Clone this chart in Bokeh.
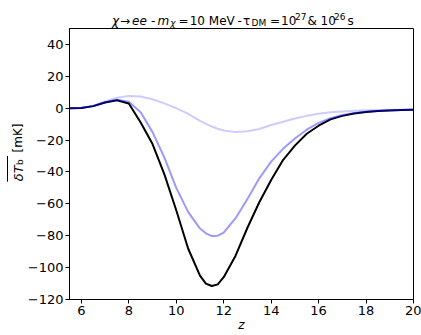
import math
from bokeh.plotting import figure
from bokeh.layouts import column, row
from bokeh.models import Range1d, FixedTicker, CustomJSTickFormatter, ColumnDataSource
from bokeh.core.properties import value
from bokeh.embed import file_html
from bokeh.resources import INLINE

# ---------------- data ----------------
z = [5.5, 6.0, 6.5, 7.0, 7.5, 8.0, 8.5, 9.0, 9.5, 10.0, 10.5, 11.0, 11.25, 11.5, 11.75,
     12.0, 12.5, 13.0, 13.5, 14.0, 14.5, 15.0, 15.5, 16.0, 16.5, 17.0, 17.5, 18.0,
     18.5, 19.0, 19.5, 20.0]
dTb_black = [0, 0.2, 1.3, 3.6, 5.0, 3.0, -9, -22.5, -41.5, -64, -88, -105, -110, -111.5, -110.5,
             -106, -92.5, -75, -59, -45, -32.5, -23.5, -16, -11, -7, -4.8, -3.3, -2.4,
             -1.8, -1.4, -1.2, -1.0]
dTb_tau26 = [0, 0.2, 1.3, 3.7, 5.3, 4.0, -2.5, -15, -31, -50, -65, -75.5, -78.5, -80.2, -80,
             -78, -69, -57, -44, -33.5, -25.5, -19, -13.5, -9.2, -6.3, -4.3, -3.0, -2.2,
             -1.7, -1.3, -1.1, -0.9]
dTb_tau27 = [0, 0.3, 1.6, 4.2, 6.6, 7.7, 7.3, 5.6, 3.0, 0.0, -3.5, -8, -9.8, -11.5, -12.9,
             -14, -15, -14.5, -13, -10.5, -8.5, -6.5, -4.8, -3.5, -2.6, -2.0, -1.6, -1.3,
             -1.1, -1.0, -0.9, -0.8]
x_ticks = [6, 8, 10, 12, 14, 16, 18, 20]
y_ticks = [-120, -100, -80, -60, -40, -20, 0, 20, 40]

title_text = ["χ", "→", "ee", "-", "m", "χ", "=", "10 MeV", "-", "τ", "DM", "=",
              "10", "27", "&", "10", "26", "s"]
title_style = ["italic", "normal", "italic", "normal", "italic", "italic", "normal", "normal",
               "normal", "normal", "normal", "normal", "normal", "normal", "normal", "normal",
               "normal", "normal"]
ylabel_text = ["δT", "b", "[mK]"]
ylabel_style = ["italic", "normal", "normal"]

FONT = "DejaVu Sans"
W, H = 421, 334
TOP = 28          # height of the title strip (page px)
YL = 24           # width of the y-label strip (page px)

# ---------------- main plot ----------------
p = figure(width=W - YL, height=H - TOP,
           x_range=Range1d(5.5, 20), y_range=Range1d(-120, 50),
           output_backend="svg", toolbar_location=None, title=None,
           min_border_left=69 - YL, min_border_right=8, min_border_top=0, min_border_bottom=33,
           background_fill_color="white", border_fill_color="white")
p.xgrid.visible = False
p.ygrid.visible = False
p.outline_line_color = "black"
p.outline_line_alpha = 1.0
p.outline_line_width = 1

for ax in (p.xaxis[0], p.yaxis[0]):
    ax.axis_line_color = "black"
    ax.major_tick_line_color = "black"
    ax.minor_tick_line_color = None
    ax.major_tick_out = 4
    ax.major_tick_in = 0
    ax.major_label_text_font = FONT
    ax.major_label_text_font_size = "13px"
    ax.major_label_text_color = "black"

p.xaxis[0].ticker = FixedTicker(ticks=x_ticks)
p.yaxis[0].ticker = FixedTicker(ticks=y_ticks)
fmt = CustomJSTickFormatter(code="return tick < 0 ? '\u2212' + Math.abs(tick) : String(tick);")
p.xaxis[0].formatter = fmt
p.yaxis[0].formatter = fmt
p.xaxis[0].major_label_standoff = 2
p.yaxis[0].major_label_standoff = 2
p.xaxis[0].axis_label = "z"
p.xaxis[0].axis_label_text_font = FONT
p.xaxis[0].axis_label_text_font_size = "12px"
p.xaxis[0].axis_label_text_font_style = "italic"
p.xaxis[0].axis_label_text_color = "black"
p.xaxis[0].axis_label_standoff = 0

p.line(z, dTb_black, line_color="black", line_width=2, line_join="round")
p.line(z, dTb_tau26, line_color="blue", line_alpha=0.4, line_width=2, line_join="round")
p.line(z, dTb_tau27, line_color="blue", line_alpha=0.2, line_width=2, line_join="round")

# ---------------- title strip (page-pixel coordinates, y measured up from strip bottom) ----------------
t = figure(width=W, height=TOP, x_range=Range1d(0, W), y_range=Range1d(0, TOP),
           output_backend="svg", toolbar_location=None, title=None,
           x_axis_location=None, y_axis_location=None, min_border=0,
           background_fill_color="white", border_fill_color="white")
t.outline_line_color = None
t.xgrid.visible = False
t.ygrid.visible = False
title_x = [111.5, 119.5, 131.5, 150.5, 157, 169.8, 178, 189.2, 237, 242.5, 251, 269.5,
           280.5, 294.5, 307, 320, 333.5, 347]
title_base = [20, 20, 20, 20, 20, 22, 20, 20, 20, 20, 22, 20, 20, 15.5, 20, 20, 15.5, 20]
title_size = ["12px", "12px", "12px", "12px", "12px", "9px", "12px", "12px", "12px",
              "12px", "9px", "12px", "12px", "9px", "12px", "12px", "9px", "12px"]
tsrc = ColumnDataSource(dict(x=title_x, y=[TOP - b for b in title_base], text=title_text,
                             style=title_style, size=title_size))
t.text(x="x", y="y", text="text", source=tsrc, text_font=value(FONT),
       text_font_style="style", text_font_size="size", text_color="black",
       text_align="left", text_baseline="alphabetic")

# ---------------- y-label strip (rotated text) ----------------
yl = figure(width=YL, height=H - TOP, x_range=Range1d(0, YL), y_range=Range1d(0, H - TOP),
            output_backend="svg", toolbar_location=None, title=None,
            x_axis_location=None, y_axis_location=None, min_border=0,
            background_fill_color="white", border_fill_color="white")
yl.outline_line_color = None
yl.xgrid.visible = False
yl.ygrid.visible = False
ylab_xpix = [17.5, 19.5, 17]
ylab_ypix = [200.5, 182, 168]
ysrc = ColumnDataSource(dict(x=ylab_xpix, y=[H - v for v in ylab_ypix], text=ylabel_text,
                             style=ylabel_style, size=["13px", "9px", "12px"]))
yl.text(x="x", y="y", text="text", source=ysrc, text_font=value(FONT),
        text_font_style="style", text_font_size="size", text_color="black",
        text_align="left", text_baseline="alphabetic", angle=math.pi / 2)
yl.segment(x0=[7.0], y0=[H - 201], x1=[7.0], y1=[H - 172], line_color="black", line_width=1)

layout = column(t, row(yl, p, spacing=0), spacing=0)
open("out.html", "w").write(file_html(layout, INLINE))
